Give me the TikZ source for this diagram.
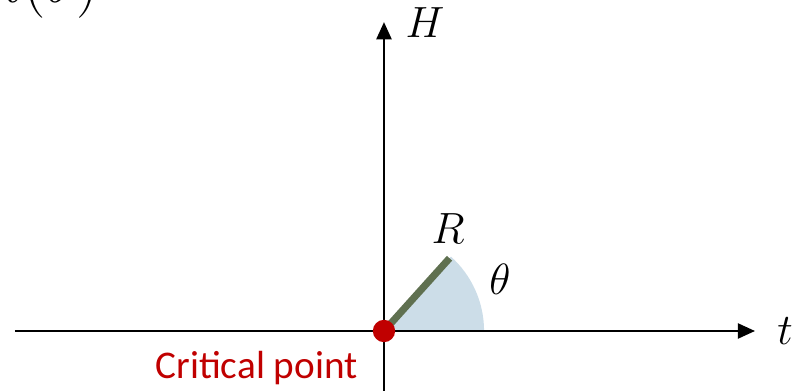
\documentclass[tikz,border=0pt]{standalone}
\usepackage{fontspec}
\newfontfamily\labelfont{Carlito}
\usetikzlibrary{positioning,arrows.meta}
\definecolor{critred}{RGB}{192,0,0}
\definecolor{radgreen}{RGB}{95,112,80}
\definecolor{sectorblue}{RGB}{204,221,232}
\tikzset{
  axisarrow/.style={-{Triangle[length=2.4mm, width=2.1mm]}, line width=0.9pt},
  axislabel/.style={font=\LARGE},
  critdot/.style={circle, fill=critred, minimum size=0.31cm, inner sep=0pt},
  critlabel/.style={font=\labelfont\fontsize{15.5}{18}\selectfont, text=critred, inner sep=0pt},
  radline/.style={line width=2.8pt, draw=radgreen}
}

\begin{document}
\begin{tikzpicture}
  \useasboundingbox (-5.333,-0.833) rectangle (5.833,4.597);
  % axes ends
  \coordinate (o) at (0,0);
  \coordinate (tstart) at (-5.125,0);
  \coordinate (tend) at (5.153,0);
  \coordinate (hstart) at (0,-0.9);
  \coordinate (hend) at (0,4.29);
  \coordinate (rend) at (48:1.36);
  % angle sector
  \fill[sectorblue] (o) -- (1.39,0) arc[start angle=0, end angle=48, radius=1.39] -- cycle;
  \draw[axisarrow] (tstart) -- (tend);
  \draw[axisarrow] (hstart) -- (hend);
  \draw[radline] (o) -- (rend);
  \node[critdot] (cp) at (o) {};
  % labels
  \node[axislabel] (tlab) at (5.57,0) {$t$};
  \node[axislabel] (hlab) at (0.57,4.29) {$H$};
  \node[axislabel] (rlab) at (0.89,1.42) {$R$};
  \node[axislabel] (thlab) at (1.61,0.72) {$\theta$};
  \node[critlabel, anchor=east] (cplab) at (-0.36,-0.51) {Critical point};
  \node[font=\fontsize{24}{28}\selectfont, anchor=base east, inner sep=0pt] (hfun) at (-3.96,4.56) {$h(\theta)$};
\end{tikzpicture}
\end{document}
